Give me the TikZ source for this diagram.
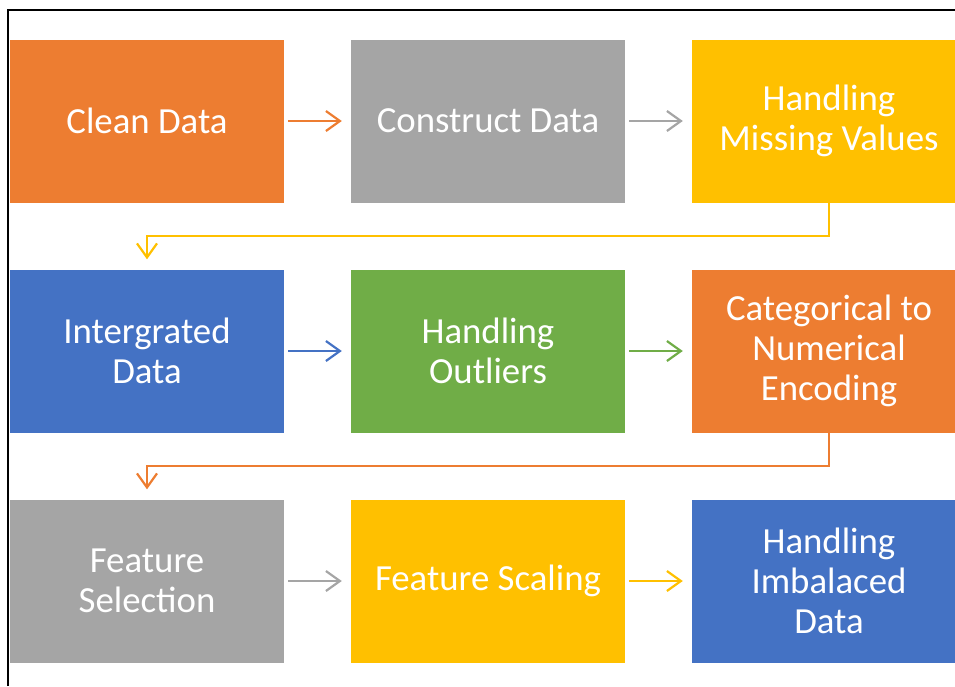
\documentclass[tikz,border=0pt]{standalone}
\usepackage{fontspec}
\setmainfont{Carlito}
\usepackage{xcolor}
\usetikzlibrary{arrows.meta, positioning}
\definecolor{offorange}{HTML}{ED7D31}
\definecolor{offgray}{HTML}{A5A5A5}
\definecolor{offyellow}{HTML}{FFC000}
\definecolor{offblue}{HTML}{4472C4}
\definecolor{offgreen}{HTML}{70AD47}

\begin{document}
\begin{tikzpicture}[
  x=1pt, y=-1pt,
  >={Straight Barb[length=14pt, width=20pt, line width=2.2pt]},
  every node/.style={font=\fontsize{36.8}{40}\selectfont, text=white},
  stepbox/.style={rectangle, inner sep=0pt, align=center, minimum width=274pt, minimum height=163pt},
  flow/.style={->, line width=2.2pt, shorten <=4pt, shorten >=9pt},
  turn/.style={->, line width=2.2pt, shorten >=10pt}
]
\useasboundingbox (0,0) rectangle (955,686);
\begin{scope}
\clip (0,0) rectangle (955,686);
% frame
\draw[line width=1.5pt, black] (8,686) -- (8,10) -- (955,10);
% first row
\node[stepbox, fill=offorange] (clean) at (147,121) {Clean Data};
\node[stepbox, fill=offgray] (construct) at (488,121) {Construct Data};
\node[stepbox, fill=offyellow] (missing) at (829,121) {Handling\\Missing Values};
% second row
\node[stepbox, fill=offblue] (integrated) at (147,351) {Intergrated\\Data};
\node[stepbox, fill=offgreen] (outliers) at (488,351) {Handling\\Outliers};
\node[stepbox, fill=offorange] (encoding) at (829,351) {Categorical to\\Numerical\\Encoding};
% third row
\node[stepbox, fill=offgray] (selection) at (147,581) {Feature\\Selection};
\node[stepbox, fill=offyellow] (scaling) at (488,581) {Feature Scaling};
\node[stepbox, fill=offblue] (imbalanced) at (829,581) {Handling\\Imbalaced\\Data};
\end{scope}
% connectors
\draw[flow, offorange] (clean) -- (construct);
\draw[flow, offgray] (construct) -- (missing);
\draw[turn, offyellow] (missing.south) -- ++(0,33) -| (integrated.north);
\draw[flow, offblue] (integrated) -- (outliers);
\draw[flow, offgreen] (outliers) -- (encoding);
\draw[turn, offorange] (encoding.south) -- ++(0,33) -| (selection.north);
\draw[flow, offgray] (selection) -- (scaling);
\draw[flow, offyellow] (scaling) -- (imbalanced);
\end{tikzpicture}
\end{document}
